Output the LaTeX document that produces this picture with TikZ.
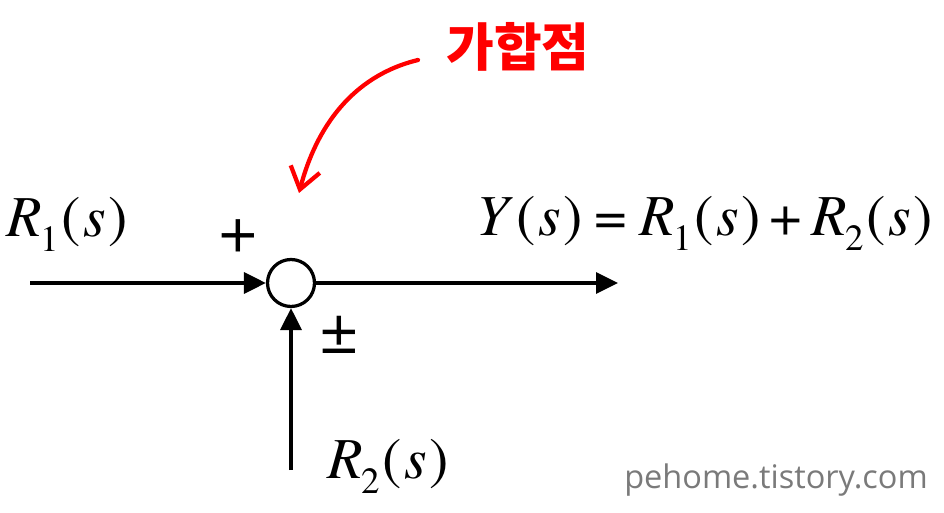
\documentclass[tikz,border=0pt]{standalone}
\usepackage{fontspec}
\setmainfont{texgyretermes}[Extension=.otf, UprightFont=*-regular, ItalicFont=*-italic, BoldFont=*-bold]
\newfontfamily\timesfont{texgyretermes}[Extension=.otf, UprightFont=*-regular, ItalicFont=*-italic, BoldFont=*-bold]
\newfontfamily\korfont{Noto Sans CJK KR}
\newfontfamily\markfont{Open Sans}
\usetikzlibrary{arrows.meta}

% signal names, subscript set low as in the figure
\newcommand{\lowsub}[1]{\raisebox{-8pt}{\fontsize{21}{21}\selectfont #1}}
\newcommand{\sig}[2]{\textit{#1}\kern-1pt\lowsub{#2}\kern1.5pt(\kern1.5pt\textit{s}\kern1.5pt)}

\begin{document}
\begin{tikzpicture}[x=0.02cm, y=-0.02cm]
	\useasboundingbox (0,0) rectangle (944,513);
	\tikzset{
		flow/.style = {line width=0.065cm, -{Triangle[length=0.44cm, width=0.42cm]}},
		big/.style = {font=\timesfont\fontsize{33}{36}\selectfont, inner sep=0pt},
		sign/.style = {font=\timesfont\fontsize{38}{38}\selectfont, inner sep=0pt}
	}
	% summing point
	\node[draw, circle, line width=0.065cm, minimum size=0.94cm, inner sep=0pt] (sum) at (291,283) {};
	\coordinate (in1) at (30,283);
	\coordinate (in2) at (291,470);
	\coordinate (out) at (618,283);
	\draw[flow] (in1) -- (sum);
	\draw[flow] (in2) -- (sum);
	\draw[flow] (sum) -- (out);
	% labels
	\node[big, anchor=base] (r1) at (67,237) {\sig{R}{1}};
	\node[big, anchor=base] (r2) at (388,479) {\sig{R}{2}};
	\node[big, anchor=base east] (y) at (933,236) {\textit{Y}\kern1.5pt(\kern1.5pt\textit{s}\kern1.5pt)\kern7pt=\kern7pt\sig{R}{1}\kern5pt+\kern5pt\sig{R}{2}};
	\node[sign] (plus) at (238,236) {+};
	\node[sign] (pm) at (339,335) {±};
	% name of the point
	\node[font=\korfont\bfseries\fontsize{29.5}{30}\selectfont, text=red, inner sep=0pt] (name) at (518,47) {가합점};
	\coordinate (tip) at (299,193);
	\draw[red, line width=0.085cm, line cap=round, -{Straight Barb[length=0.42cm, width=0.6cm]}]
		(418,60) .. controls (352,76) and (316,128) .. (tip);
	\node[font=\markfont\fontsize{18.5}{20}\selectfont, text=black!52, inner sep=0pt] (mark) at (776,480) {pehome.tistory.com};
\end{tikzpicture}
\end{document}
